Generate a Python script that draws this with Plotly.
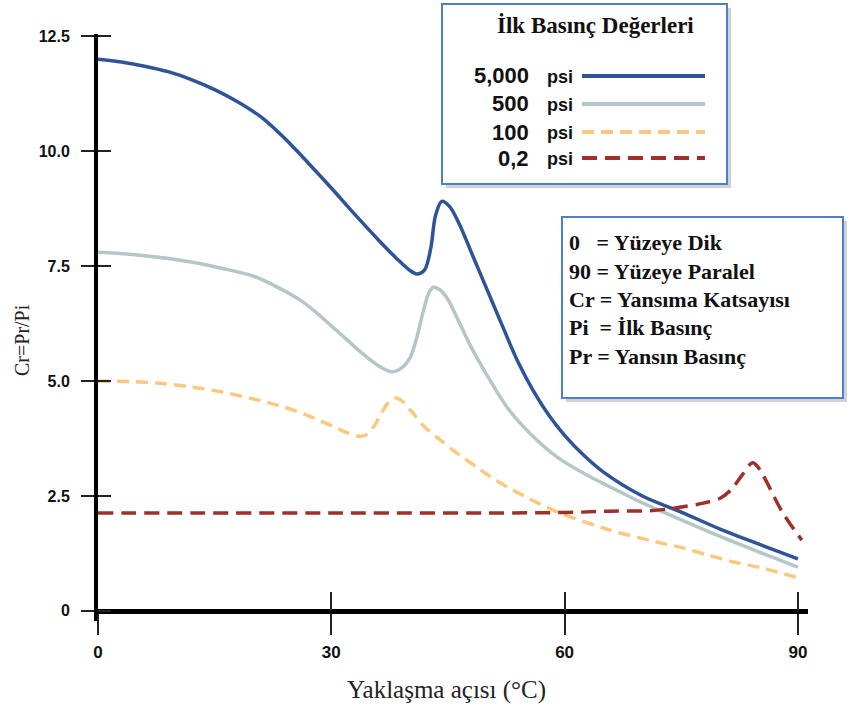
import plotly.graph_objects as go

# ---------------- data ----------------
angle_5000 = [0, 3, 6, 9, 12, 15, 18, 21, 24, 27, 30, 33, 36, 38.5, 40, 41, 42, 42.8, 43.4, 44.2,
              45.2, 46.5, 48.2, 49.5, 52, 54, 56, 58, 60, 62.5, 65, 70, 75, 80, 85, 90]
cr_5000 = [12.0, 11.94, 11.85, 11.73, 11.56, 11.34, 11.07, 10.74, 10.28, 9.75, 9.2, 8.63, 8.08, 7.65,
           7.42, 7.33, 7.42, 7.9, 8.6, 8.91, 8.8, 8.4, 7.72, 7.2, 6.2, 5.42, 4.78, 4.25, 3.82, 3.38,
           3.02, 2.5, 2.15, 1.78, 1.45, 1.13]

angle_500 = [0, 4, 8, 12, 16, 20, 23, 26, 28, 30, 32, 34, 36, 37.8, 39, 40.1, 41, 41.8, 42.5, 43.1,
             44, 44.9, 46.5, 48.2, 50.4, 52.6, 55.5, 59, 62.8, 67, 70, 75, 80, 85, 90]
cr_500 = [7.8, 7.76, 7.69, 7.59, 7.45, 7.28, 7.05, 6.76, 6.5, 6.2, 5.9, 5.6, 5.34, 5.2, 5.28, 5.5,
          5.95, 6.5, 6.9, 7.04, 6.98, 6.8, 6.26, 5.67, 5.02, 4.43, 3.87, 3.35, 2.96, 2.6, 2.35, 1.98,
          1.62, 1.28, 0.95]

angle_100 = [0, 4, 8, 12, 16, 20, 24, 27, 30, 32, 33.5, 34.5, 35.5, 36.5, 37.5, 38.3, 39.2, 40.5, 42,
             44, 46.5, 48.7, 50.8, 55, 59.4, 65.8, 71.8, 75.2, 78.3, 81.6, 85.5, 90]
cr_100 = [5.0, 4.99, 4.95, 4.87, 4.76, 4.61, 4.43, 4.25, 4.03, 3.88, 3.8, 3.83, 4.02, 4.32, 4.56, 4.63,
          4.55, 4.3, 4.0, 3.72, 3.39, 3.13, 2.88, 2.48, 2.13, 1.76, 1.5, 1.37, 1.22, 1.07, 0.93, 0.72]

angle_02 = [0, 30, 60, 66, 71, 73.5, 76.5, 78, 80, 81.5, 82.8, 84.2, 85.2, 86, 88, 90.5]
cr_02 = [2.13, 2.13, 2.14, 2.17, 2.18, 2.22, 2.3, 2.35, 2.45, 2.65, 2.95, 3.22, 3.05, 2.8, 2.15, 1.54]

x_ticks = [0, 30, 60, 90]
x_tick_text = ["0", "30", "60", "90"]
y_ticks = [0, 2.5, 5.0, 7.5, 10.0, 12.5]
y_tick_text = ["0", "2.5", "5.0", "7.5", "10.0", "12.5"]

series_labels = ["5,000", "500", "100", "0,2"]
series_colors = ["#2E5497", "#B5C6C9", "#FCC880", "#9E302B"]
series_dash = ["solid", "solid", "12px,7px", "15px,8px"]

legend_title = "İlk Basınç Değerleri"
info_lines = ["0\u00a0\u00a0\u00a0= Yüzeye Dik", "90 = Yüzeye Paralel", "Cr = Yansıma Katsayısı",
              "Pi\u00a0 = İlk Basınç", "Pr = Yansın Basınç"]
x_title = "Yaklaşma açısı (°C)"
y_title = "Cr=Pr/Pi"

# ---------------- figure ----------------
ML, MR, MT, MB = 98, 60, 34, 89
W, H = 868, 710
PW, PH = W - ML - MR, H - MT - MB


def px(x):
    return (x - ML) / PW


def py(y):
    return (H - MB - y) / PH


fig = go.Figure()
order = [2, 1, 0, 3]
data = [(angle_5000, cr_5000), (angle_500, cr_500), (angle_100, cr_100), (angle_02, cr_02)]
for i in order:
    xs, ys = data[i]
    fig.add_trace(go.Scatter(
        x=xs, y=ys, mode="lines", name=series_labels[i] + " psi", showlegend=False, hoverinfo="skip",
        line=dict(color=series_colors[i], width=3.5, dash=series_dash[i], shape="spline", smoothing=0.9)))

# empty trace so that the overlay axes (inner half of the crossing ticks) get drawn
fig.add_trace(go.Scatter(x=[None], y=[None], xaxis="x2", yaxis="y2", mode="lines",
                         showlegend=False, hoverinfo="skip"))

y_lo, y_hi = -0.22, 12.55
x_lo, x_hi = 0, 91.3
pos0 = (0 - y_lo) / (y_hi - y_lo)

tick_font = dict(family="Liberation Sans Narrow, Liberation Sans, Arial", size=17, color="#111", weight="bold")

fig.update_layout(
    width=W, height=H, margin=dict(l=ML, r=MR, t=MT, b=MB),
    plot_bgcolor="white", paper_bgcolor="white",
    xaxis=dict(range=[x_lo, x_hi], anchor="free", position=pos0, showline=True, linecolor="black",
               linewidth=5, ticks="outside", ticklen=21, tickwidth=1.5, tickcolor="#222",
               tickvals=x_ticks, ticktext=x_tick_text, tickfont=tick_font, showgrid=False,
               zeroline=False, ticklabelstandoff=3),
    xaxis2=dict(range=[x_lo, x_hi], overlaying="x", anchor="free", position=pos0, showline=False,
                ticks="inside", ticklen=19, tickwidth=1.5, tickcolor="#222", tickvals=x_ticks,
                showticklabels=False, showgrid=False, zeroline=False),
    yaxis=dict(range=[y_lo, y_hi], anchor="x", showline=True, linecolor="black", linewidth=4,
               ticks="outside", ticklen=13, tickwidth=1.5, tickcolor="#222", tickvals=y_ticks,
               ticktext=y_tick_text, tickfont=dict(tick_font, size=16), showgrid=False,
               zeroline=False, ticklabelstandoff=8),
    yaxis2=dict(range=[y_lo, y_hi], overlaying="y", anchor="x", side="left", showline=False,
                ticks="inside", ticklen=13, tickwidth=1.5, tickcolor="#222", tickvals=y_ticks,
                showticklabels=False, showgrid=False, zeroline=False),
)

shapes = []
annotations = []
serif = "Liberation Serif, Times New Roman, serif"
box_col = "#4C7FD0"

# axis titles
annotations.append(dict(xref="paper", yref="paper", x=px(22), y=py(340), text=y_title, textangle=-90,
                        showarrow=False, font=dict(family=serif, size=20, color="#222"),
                        xanchor="center", yanchor="middle"))
annotations.append(dict(xref="paper", yref="paper", x=px(446), y=py(690), text=x_title,
                        showarrow=False, font=dict(family=serif, size=25, color="#222"),
                        xanchor="center", yanchor="middle"))

# legend box
lb = (442, 4, 727, 184)
shapes.append(dict(type="rect", xref="paper", yref="paper", x0=px(lb[0] + 4), x1=px(lb[2] + 4),
                   y0=py(lb[1] + 4), y1=py(lb[3] + 4), line=dict(width=0), fillcolor="rgba(0,0,0,0.18)"))
shapes.append(dict(type="rect", xref="paper", yref="paper", x0=px(lb[0]), x1=px(lb[2]),
                   y0=py(lb[1]), y1=py(lb[3]), line=dict(color=box_col, width=2), fillcolor="white"))
annotations.append(dict(xref="paper", yref="paper", x=px(595), y=py(26), text="<b>" + legend_title + "</b>",
                        showarrow=False, font=dict(family=serif, size=23, color="#111"),
                        xanchor="center", yanchor="middle"))
entry_y = [76, 104, 132, 158]
for i in range(4):
    annotations.append(dict(xref="paper", yref="paper", x=px(531), y=py(entry_y[i]), text=series_labels[i],
                            showarrow=False, font=dict(tick_font, size=22),
                            xanchor="right", yanchor="middle"))
    annotations.append(dict(xref="paper", yref="paper", x=px(545), y=py(entry_y[i] + 1), text="psi",
                            showarrow=False, font=dict(tick_font, size=18),
                            xanchor="left", yanchor="middle"))
    shapes.append(dict(type="line", xref="paper", yref="paper", x0=px(582), x1=px(705),
                       y0=py(entry_y[i]), y1=py(entry_y[i]),
                       line=dict(color=series_colors[i], width=4, dash=series_dash[i])))

# info box
ib = (562, 217, 843, 398)
shapes.append(dict(type="rect", xref="paper", yref="paper", x0=px(ib[0] + 4), x1=px(ib[2] + 4),
                   y0=py(ib[1] + 4), y1=py(ib[3] + 4), line=dict(width=0), fillcolor="rgba(0,0,0,0.18)"))
shapes.append(dict(type="rect", xref="paper", yref="paper", x0=px(ib[0]), x1=px(ib[2]),
                   y0=py(ib[1]), y1=py(ib[3]), line=dict(color=box_col, width=2), fillcolor="white"))
info_y = [242, 271, 299, 328, 356]
for t, yy in zip(info_lines, info_y):
    annotations.append(dict(xref="paper", yref="paper", x=px(567), y=py(yy), text="<b>" + t + "</b>",
                            showarrow=False, font=dict(family=serif, size=22, color="#111"),
                            xanchor="left", yanchor="middle"))

fig.update_layout(shapes=shapes, annotations=annotations)
fig.write_html("out.html")
